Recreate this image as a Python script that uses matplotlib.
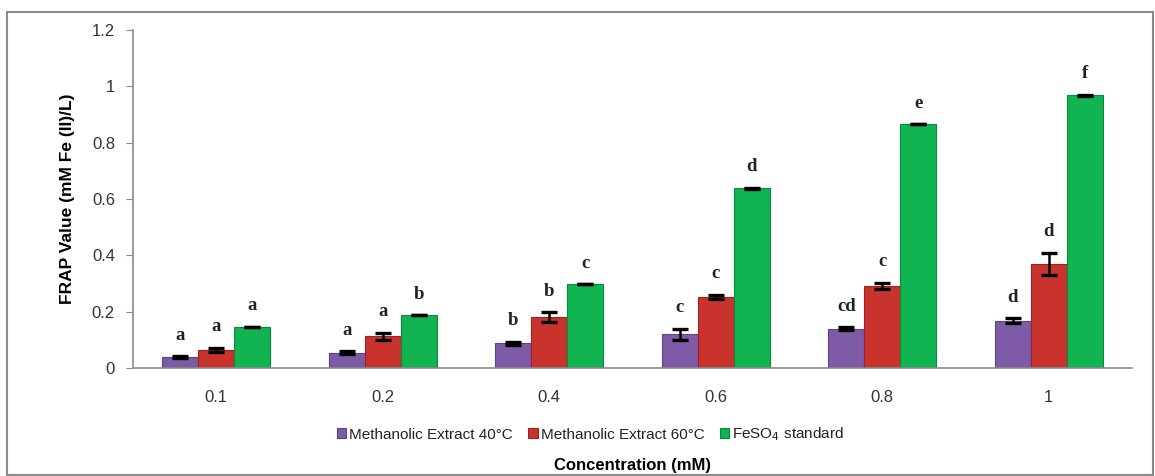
import matplotlib
matplotlib.use("Agg")
import matplotlib.pyplot as plt
import numpy as np
from matplotlib.patches import Rectangle

categories = ["0.1", "0.2", "0.4", "0.6", "0.8", "1"]
series_names = ["Methanolic Extract 40°C", "Methanolic Extract 60°C", "FeSO$_4$ standard"]
vals_40 = [0.038, 0.055, 0.088, 0.120, 0.140, 0.168]
vals_60 = [0.065, 0.112, 0.180, 0.252, 0.292, 0.370]
vals_fe = [0.145, 0.188, 0.297, 0.638, 0.865, 0.968]
err_40 = [0.004, 0.004, 0.005, 0.020, 0.005, 0.008]
err_60 = [0.007, 0.013, 0.018, 0.008, 0.010, 0.040]
err_fe = [0.001, 0.000, 0.000, 0.002, 0.000, 0.002]
letters_40 = ["a", "a", "b", "c", "cd", "d"]
letters_60 = ["a", "a", "b", "c", "c", "d"]
letters_fe = ["a", "b", "c", "d", "e", "f"]
yticks = [0, 0.2, 0.4, 0.6, 0.8, 1, 1.2]
ytick_labels = ["0", "0.2", "0.4", "0.6", "0.8", "1", "1.2"]

colors = ["#7E5BA6", "#C9332E", "#12B351"]
edges = ["#5E4285", "#9E2220", "#0A8A3C"]

plt.rcParams['font.family'] = ['Liberation Sans', 'DejaVu Sans']
fig = plt.figure(figsize=(11.55, 4.76), dpi=100)
fig.patches.append(Rectangle((7/1155, 1/476), 1146/1155, 463/476, transform=fig.transFigure,
                             fill=False, edgecolor="#8a8a8a", linewidth=1.5))
ax = fig.add_axes([133/1155, 1-368/476, 999/1155, 338/476])

x = np.arange(len(categories))
w = 0.216
series = [(vals_40, err_40, letters_40), (vals_60, err_60, letters_60), (vals_fe, err_fe, letters_fe)]
for i, (v, e, lab) in enumerate(series):
    xs = x + (i - 1) * w
    ax.bar(xs, v, width=w, color=colors[i], edgecolor=edges[i], linewidth=0.8,
           label=series_names[i], zorder=2)
    ax.errorbar(xs, v, yerr=e, fmt='none', ecolor='black', elinewidth=1.8,
                capsize=5.5, capthick=2.4, zorder=3)
    for xi, vi, ei, li in zip(xs, v, e, lab):
        ax.annotate(li, (xi, vi + ei), xytext=(0, 9), textcoords='offset points',
                    ha='center', va='bottom', fontsize=13.5, fontweight='bold',
                    family='Liberation Serif', color='#222222')

ax.set_xlim(-0.5, len(categories) - 0.5)
ax.set_ylim(0, 1.2)
ax.set_yticks(yticks)
ax.set_yticklabels(ytick_labels)
ax.set_xticks(x)
ax.set_xticklabels(categories)
ax.tick_params(axis='x', length=0, pad=16, labelsize=12, labelcolor='#333333')
ax.tick_params(axis='y', length=5, direction='out', color='#888888', labelsize=12,
               labelcolor='#333333', pad=8)
for s in ['top', 'right']:
    ax.spines[s].set_visible(False)
for s in ['left', 'bottom']:
    ax.spines[s].set_color('#8a8a8a')
    ax.spines[s].set_linewidth(1.2)

ax.set_ylabel("FRAP Value (mM Fe (II)/L)", fontsize=12.5, fontweight='bold', labelpad=12)
ax.set_xlabel("Concentration (mM)", fontsize=12, fontweight='bold', labelpad=38)

leg = ax.legend(loc='upper center', bbox_to_anchor=(0.458, -0.13), ncol=3, frameon=False,
                fontsize=11, handlelength=0.6, handleheight=0.6, handletextpad=0.2,
                columnspacing=1.0)
for t in leg.get_texts():
    t.set_color('#222222')

fig.savefig("out.png", dpi=100)
